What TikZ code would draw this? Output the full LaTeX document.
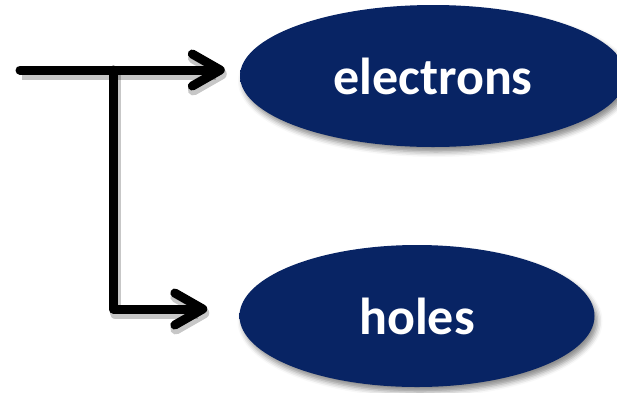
\documentclass[tikz,border=0pt]{standalone}
\usepackage{fontspec}
\setmainfont{Carlito}
\usetikzlibrary{shapes.geometric,arrows.meta,shadows.blur}
\definecolor{navy}{RGB}{8,36,100}
\definecolor{navyedge}{RGB}{40,70,150}
\pgfdeclareradialshading{ellsh}{\pgfpoint{0bp}{0bp}}{color(0bp)=(navy); color(42bp)=(navy); color(50bp)=(navyedge); color(60bp)=(navyedge)}
\tikzset{
  carrier/.style={ellipse, shading=ellsh, draw=none, text=white,
    font=\fontsize{52}{60}\selectfont\bfseries, inner sep=0pt,
    blur shadow={shadow xshift=3pt, shadow yshift=-5pt, shadow blur radius=5pt, shadow opacity=45}},
  conn/.style={line width=9pt, line join=round, line cap=round,
    -{Straight Barb[length=28pt,width=32pt,round]}},
  connshadow/.style={line width=11pt, line join=round, draw=black, opacity=0.22,
    -{Straight Barb[length=28pt,width=32pt,round]}}
}
\begin{document}
\begin{tikzpicture}[x=1pt,y=-1pt]
\clip (0,0) rectangle (617,392);
\useasboundingbox (0,0) rectangle (617,392);
\node[carrier, minimum width=386pt, minimum height=142pt] (e) at (433,76) {electrons};
\node[carrier, minimum width=355pt, minimum height=142pt] (h) at (417,316) {holes};
\coordinate (s) at (20,70);
\coordinate (j) at (113,70);
\begin{scope}[transform canvas={xshift=2pt,yshift=-4pt}]
\draw[connshadow, shorten >=15pt] (s) -- (s -| e.west);
\draw[connshadow, shorten >=32pt] (j) |- ([yshift=7pt]h.west);
\end{scope}
\draw[conn, shorten >=15pt] (s) -- (s -| e.west);
\draw[conn, shorten >=32pt] (j) |- ([yshift=7pt]h.west);
\end{tikzpicture}
\end{document}
